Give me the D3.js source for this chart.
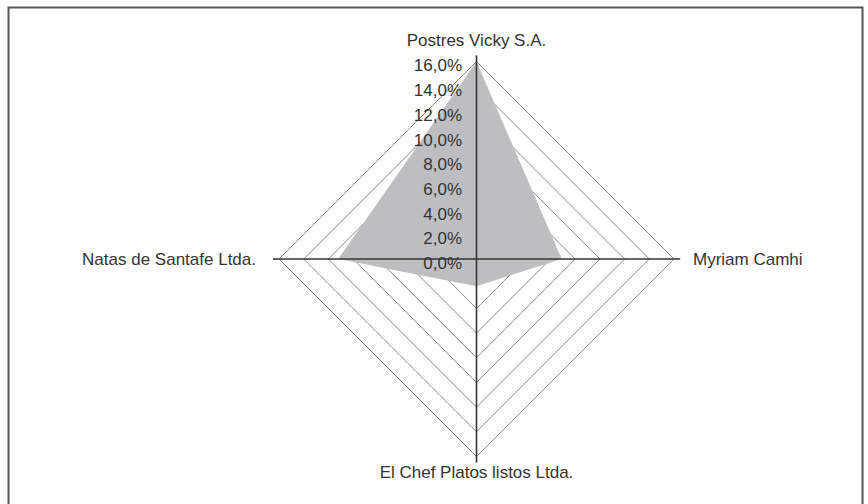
<!DOCTYPE html>
<html>
<head>
<meta charset="utf-8">
<script src="https://cdn.jsdelivr.net/npm/d3@7"></script>
<style>
  body { margin: 0; background: #fff; }
  text { font-family: "Liberation Sans", Arial, sans-serif; fill: #333; }
</style>
</head>
<body>
<script>
// data
var categories = ["Postres Vicky S.A.", "Myriam Camhi", "El Chef Platos listos Ltda.", "Natas de Santafe Ltda."];
var values = [16.0, 6.9, 2.2, 11.2];
var tickValues = [0, 2, 4, 6, 8, 10, 12, 14, 16];
var tickLabels = ["0,0%", "2,0%", "4,0%", "6,0%", "8,0%", "10,0%", "12,0%", "14,0%", "16,0%"];

var width = 868, height = 504;
var cx = 476.5, cy = 259, R = 197.5;

var svg = d3.select("body").append("svg")
    .attr("width", width)
    .attr("height", height);

// frame (bottom edge cut off)
svg.append("path")
    .attr("d", "M8.5,504 V7.5 H862.5 V504")
    .attr("fill", "none")
    .attr("stroke", "#555")
    .attr("stroke-width", 2);

var r = d3.scaleLinear().domain([0, 16]).range([0, R]);
var angle = d3.scaleBand().domain(categories).range([0, 2 * Math.PI]).align(0).paddingInner(0).paddingOuter(0);

function pt(cat, v) {
  var a = angle(cat);
  return [cx + r(v) * Math.sin(a), cy - r(v) * Math.cos(a)];
}

var g = svg.append("g");

// grid rings
g.selectAll(".ring")
  .data(tickValues.filter(function(t) { return t > 0; }))
  .enter().append("polygon")
    .attr("class", "ring")
    .attr("points", function(t) { return categories.map(function(c) { return pt(c, t).join(","); }).join(" "); })
    .attr("fill", "none")
    .attr("stroke", "#8a8a8a")
    .attr("stroke-width", 1);

// value polygon (covers the rings)
g.append("polygon")
    .attr("points", categories.map(function(c, i) { return pt(c, values[i]).join(","); }).join(" "))
    .attr("fill", "#bebec1");

// spokes
g.selectAll(".spoke")
  .data(categories)
  .enter().append("line")
    .attr("class", "spoke")
    .attr("x1", cx).attr("y1", cy)
    .attr("x2", function(c) { return pt(c, 16.5)[0]; })
    .attr("y2", function(c) { return pt(c, 16.5)[1]; })
    .attr("stroke", "#333")
    .attr("stroke-width", 1.6);

// tick labels
g.selectAll(".tick")
  .data(tickValues)
  .enter().append("text")
    .attr("class", "tick")
    .attr("x", 462)
    .attr("y", function(t) { return cy - r(t) + 4; })
    .attr("dy", "0.35em")
    .attr("text-anchor", "end")
    .style("font-size", "17px")
    .text(function(t, i) { return tickLabels[i]; });

// category labels
var labelPos = [
  {x: cx, y: 40, anchor: "middle"},
  {x: 693, y: cy, anchor: "start"},
  {x: cx, y: 472, anchor: "middle"},
  {x: 256, y: cy, anchor: "end"}
];
g.selectAll(".cat")
  .data(categories)
  .enter().append("text")
    .attr("class", "cat")
    .attr("x", function(c, i) { return labelPos[i].x; })
    .attr("y", function(c, i) { return labelPos[i].y; })
    .attr("dy", "0.35em")
    .attr("text-anchor", function(c, i) { return labelPos[i].anchor; })
    .style("font-size", "17px")
    .text(function(c) { return c; });
</script>
</body>
</html>
